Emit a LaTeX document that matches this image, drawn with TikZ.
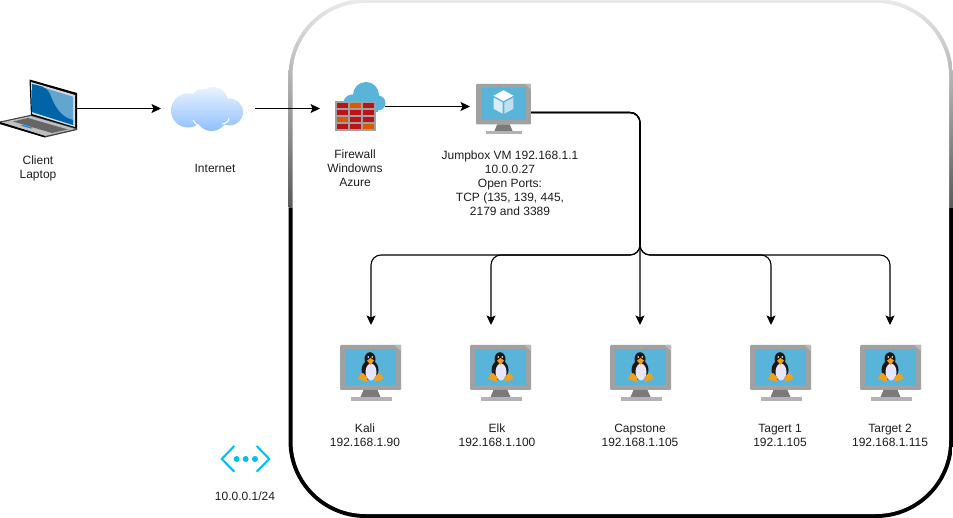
\documentclass[tikz,border=0pt]{standalone}
\usepackage{fontspec}
\setmainfont{Liberation Sans}
\usetikzlibrary{arrows.meta}
\definecolor{scr}{HTML}{59B4D9}
\definecolor{mon}{HTML}{A0A1A2}
\definecolor{monhi}{HTML}{B8B9BA}
\definecolor{stnd}{HTML}{7A7A7A}
\definecolor{bas}{HTML}{B3B3B3}
\definecolor{brickr}{HTML}{BA141A}
\definecolor{bricko}{HTML}{DD5900}
\definecolor{wallg}{HTML}{A0A1A2}
\definecolor{netc}{HTML}{00BEF2}
\definecolor{tuxo}{HTML}{F0A020}
\definecolor{txt}{HTML}{1E1E1E}
\definecolor{lapa}{HTML}{62A5CF}
\definecolor{lapb}{HTML}{0064A8}
\definecolor{cloudt}{HTML}{EAF3FF}
\definecolor{cloudb}{HTML}{8FC0FF}
\tikzset{
  x=1pt,y=-1pt,
  conn/.style={draw=black,line width=1.1pt,-{Stealth[length=9.5pt,width=9pt,inset=2pt]}},
  bus/.style={conn,rounded corners=10pt},
  icon/.style={inner sep=0pt,outer sep=0pt,minimum width=#1},
  lbl/.style={inner sep=0pt,align=center,text=txt,font=\fontsize{12}{14}\selectfont},
}
% monitor frame: centre x=0, top y=0, 61 wide
\newcommand{\monitorframe}{%
  \fill[mon,rounded corners=1pt] (-30.5,0) rectangle (30.5,45);
  \fill[monhi] (24,0) -- (30.5,0) -- (30.5,6) -- cycle;
  \fill[scr] (-25.5,4) rectangle (25.5,40);
  \fill[stnd] (-7,45) -- (7,45) -- (10,52) -- (-10,52) -- cycle;
  \fill[bas] (-20,52) rectangle (21,56);
  \fill[yellow!70!green] (0,2) circle (0.6);
}
\newcommand{\tuxicon}[2]{%
  \begin{scope}[shift={(#1,#2)}]
    \monitorframe
    \fill[black!90] (-0.5,14) ellipse (5.5 and 6.8);
    \fill[black!90] (-0.5,25) ellipse (8.5 and 10);
    \fill[white!90!blue] (0.5,27) ellipse (5.5 and 8.5);
    \fill[tuxo] (-3.5,37) -- (-12.5,34) -- (-10.5,29.5) -- (-7.5,28) -- (-3.5,32) -- cycle;
    \fill[tuxo] (4,37) -- (13,34) -- (11,29.5) -- (8,28) -- (4,32) -- cycle;
    \fill[tuxo] (-3.5,15.5) -- (0,13) -- (3.5,15.5) -- (0,20) -- cycle;
    \fill[white] (-2.2,12) circle (0.9) (1.8,12) circle (0.9);
  \end{scope}}
\begin{document}
\begin{tikzpicture}
\useasboundingbox (0,0) rectangle (953,518);
% outer frame
\begin{scope}
  \clip[rounded corners=77pt] (288.5,-1) rectangle (953,518);
  \shade[top color=black!8,middle color=black!27,bottom color=black!65] (285,-1) rectangle (953,208);
  \fill[black] (285,208) rectangle (953,518);
\end{scope}
\fill[white,rounded corners=73pt] (292.5,3) rectangle (949,514);

% invisible anchor nodes
\node[icon=77,minimum height=60pt] (laptop) at (38.5,108.5) {};
\node[icon=94,minimum height=50pt] (internet) at (208,108.5) {};
\node[icon=65,minimum height=50pt] (firewall) at (352.5,108.5) {};
\node[icon=61,minimum height=57pt] (jumpbox) at (500.5,112.5) {};
\node[icon=61,minimum height=76pt] (kali) at (371,363) {};
\node[icon=61,minimum height=76pt] (elk) at (491,363) {};
\node[icon=61,minimum height=76pt] (capstone) at (640,363) {};
\node[icon=61,minimum height=76pt] (target1) at (771,363) {};
\node[icon=61,minimum height=76pt] (target2) at (890,363) {};
\node[icon=50,minimum height=27pt] (subnet) at (245.5,459) {};

% laptop
\fill[black] (29.5,79.5) -- (77,93) -- (77,129) -- (31,116) -- cycle;
\fill[white!85!black] (31,82) -- (75,95) -- (75,127) -- (32,114) -- cycle;
\fill[black!75] (30,115) -- (77,128.5) -- (77,130) -- (45,137.5) -- (0,124) -- (0,121.5) -- cycle;
\fill[black!25] (31,116) -- (75.5,129) -- (45,136) -- (1,122.5) -- cycle;
\fill[black!60] (28,118) -- (68,129.5) -- (52,133) -- (13,121.5) -- cycle;
\fill[netc!70!blue] (23,125) -- (33,128) -- (31,128.5) -- (21,125.6) -- cycle;
\fill[black] (0,122) -- (45,136) -- (45,137.5) -- (0,124) -- cycle;
\fill[lapa] (32,84) -- (73,96.7) -- (73,125) -- (32,112) -- cycle;
\fill[lapb] (32,84) .. controls (40,86) and (46,86) .. (50,94) .. controls (54,105) and (60,117) .. (73,120) -- (73,125) -- (32,112) -- cycle;

% internet cloud
\begin{scope}
  \path[clip] (188,110.5) circle (17) (213,102) circle (15) (229.5,112) circle (13.5)
              (211.5,115) circle (16) (203,102) circle (13);
  \shade[top color=cloudt,bottom color=cloudb] (170,87) rectangle (245,131);
\end{scope}
\draw[white,line width=1pt] (193,120) .. controls (196,125) and (199,126) .. (201,128);
\draw[white,line width=1pt] (222,124) .. controls (226,123) and (229,122) .. (229,118);

% firewall
\fill[scr] (366,95) circle (13) (378,103) circle (7.5) (352,103) circle (8.5);
\fill[scr] (352,100) rectangle (378,112);
\fill[wallg] (335,101) rectangle (376,131);
\foreach \r/\a/\b [count=\i from 0] in {brickr/bricko/brickr,brickr/brickr/brickr,bricko/brickr/brickr,brickr/brickr/bricko}{
  \fill[\r] (337,{103+7*\i}) rectangle (348,{108.5+7*\i});
  \fill[\a] (350,{103+7*\i}) rectangle (361,{108.5+7*\i});
  \fill[\b] (363,{103+7*\i}) rectangle (374,{108.5+7*\i});
}

% jumpbox
\begin{scope}[shift={(503.5,84)},scale=0.9]
  \monitorframe
  \fill[white] (0,7) -- (11,13) -- (0,19) -- (-11,13) -- cycle;
  \fill[white!78!scr] (-11,15) -- (-1,20.5) -- (-1,33) -- (-11,27.5) -- cycle;
  \fill[white!60!scr] (11,15) -- (1,20.5) -- (1,33) -- (11,27.5) -- cycle;
\end{scope}

% linux hosts
\tuxicon{370.5}{345}
\tuxicon{500.5}{345}
\tuxicon{640.5}{345}
\tuxicon{780.5}{345}
\tuxicon{890.5}{345}

% subnet icon
\draw[netc,line width=2pt] (234.3,446) -- (221.7,459) -- (234.3,471.7);
\draw[netc,line width=2pt] (256.7,446) -- (269.3,459) -- (256.7,471.7);
\fill[netc] (236.7,459) circle (3) (245.7,459) circle (3) (255,459) circle (3);

% connectors
\coordinate (branch) at (640,255);
\draw[conn] (laptop.east) -- (internet.west);
\draw[conn] (internet.east) -- (firewall.west);
\draw[conn] ([yshift=2pt]firewall.east) -- ([yshift=6pt]jumpbox.west);
\draw[bus] (jumpbox.east) -| (branch) -| (kali.north);
\draw[bus] (jumpbox.east) -| (branch) -| (elk.north);
\draw[bus] (jumpbox.east) -| (capstone.north);
\draw[bus] (jumpbox.east) -| (branch) -| (target1.north);
\draw[bus] (jumpbox.east) -| (branch) -| (target2.north);

% labels
\node[lbl] (tlaptop) at (38,168) {Client\\Laptop};
\node[lbl] (tinternet) at (215,168) {Internet};
\node[lbl] (tfirewall) at (355,168) {Firewall\\Windowns\\Azure};
\node[lbl] (tjumpbox) at (510,183) {Jumpbox VM 192.168.1.1\\10.0.0.27\\Open Ports:\\TCP (135, 139, 445,\\2179 and 3389};
\node[lbl] (tkali) at (365,435.5) {Kali\\192.168.1.90};
\node[lbl] (telk) at (497,435.5) {Elk\\192.168.1.100};
\node[lbl] (tcapstone) at (640,435.5) {Capstone\\192.168.1.105};
\node[lbl] (ttarget1) at (780,435.5) {Tagert 1\\192.1.105};
\node[lbl] (ttarget2) at (890,435.5) {Target 2\\192.168.1.115};
\node[lbl] (tsubnet) at (245,496) {10.0.0.1/24};
\end{tikzpicture}
\end{document}
